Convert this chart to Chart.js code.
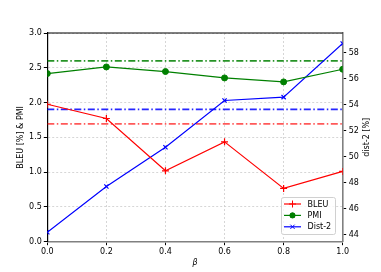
<!DOCTYPE html>
<html>
<head>
<meta charset="utf-8">
<script src="https://cdn.jsdelivr.net/npm/chart.js@4/dist/chart.umd.min.js"></script>
<style>
  html, body { margin: 0; padding: 0; background: #fff; }
  canvas { display: block; }
</style>
</head>
<body>
<canvas id="chart" width="381" height="272"></canvas>
<script>
// Données
const betaValues = [0.0, 0.2, 0.4, 0.6, 0.8, 1.0];
const bleuValues = [1.976, 1.771, 1.019, 1.435, 0.766, 1.01];
const pmiValues = [2.417, 2.512, 2.446, 2.354, 2.297, 2.479];
const dist2Values = [44.2, 47.72, 50.73, 54.32, 54.58, 58.69];

// Lignes de référence (tirets-points)
const bleuBaseline = 1.694;
const pmiBaseline = 2.598;
const dist2Baseline = 53.63;

// Graduations
const xTicks = [0.0, 0.2, 0.4, 0.6, 0.8, 1.0];
const leftTicks = [0.0, 0.5, 1.0, 1.5, 2.0, 2.5, 3.0];
const rightTicks = [44, 46, 48, 50, 52, 54, 56, 58];

const FONT = 'DejaVu Sans';
const dashDot = [7, 2.5, 1.5, 2.5];

function toPoints(values) {
    return betaValues.map((b, i) => ({ x: b, y: values[i] }));
}

function flatLine(value) {
    return [{ x: betaValues[0], y: value }, { x: betaValues[betaValues.length - 1], y: value }];
}

// Légende dessinée dans la zone du graphique (en bas à droite)
const legendEntries = [
    { label: 'BLEU', color: '#ff0000', style: 'cross', r: 3.5 },
    { label: 'PMI', color: '#008000', style: 'circle', r: 2.6 },
    { label: 'Dist-2', color: '#0000ff', style: 'crossRot', r: 3 }
];

const decorPlugin = {
    id: 'decor',
    afterDraw(chart) {
        const ctx = chart.ctx;
        const area = chart.chartArea;
        ctx.save();
        // bord supérieur
        ctx.strokeStyle = '#000';
        ctx.lineWidth = 1.2;
        ctx.beginPath();
        ctx.moveTo(area.left, area.top);
        ctx.lineTo(area.right, area.top);
        ctx.stroke();

        // titre de l'axe de droite (lu de bas en haut)
        ctx.fillStyle = '#000';
        ctx.font = '8px "' + FONT + '"';
        ctx.textAlign = 'center';
        ctx.textBaseline = 'middle';
        ctx.translate(366.7, (area.top + area.bottom) / 2);
        ctx.rotate(-Math.PI / 2);
        ctx.fillText('dist-2 [%]', 0, 0);
        ctx.restore();

        // boîte de légende
        ctx.save();
        const bx = 281, by = 197, bw = 54, bh = 37;
        ctx.fillStyle = 'rgba(255,255,255,0.8)';
        ctx.strokeStyle = '#d0d0d0';
        ctx.lineWidth = 1;
        ctx.beginPath();
        ctx.roundRect(bx + 0.5, by + 0.5, bw, bh, 2);
        ctx.fill();
        ctx.stroke();
        legendEntries.forEach((e, i) => {
            const y = 204 + i * 11.4;
            ctx.strokeStyle = e.color;
            ctx.lineWidth = 1.2;
            ctx.beginPath();
            ctx.moveTo(284, y);
            ctx.lineTo(301, y);
            ctx.stroke();
            ctx.lineWidth = 1;
            Chart.helpers.drawPoint(ctx, {
                pointStyle: e.style, radius: e.r, rotation: 0, borderWidth: 1
            }, 292.5, y);
            ctx.fillStyle = e.color;
            if (e.style === 'circle') ctx.fill();
            ctx.fillStyle = '#000';
            ctx.font = '8px "' + FONT + '"';
            ctx.textAlign = 'left';
            ctx.textBaseline = 'middle';
            ctx.fillText(e.label, 307.5, y + 0.5);
        });
        ctx.restore();
    }
};

const tickFont = { family: FONT, size: 8 };

const ctx = document.getElementById('chart').getContext('2d');
const chart = new Chart(ctx, {
    type: 'line',
    data: {
        datasets: [
            {
                label: 'BLEU', data: toPoints(bleuValues), yAxisID: 'y',
                borderColor: '#ff0000', backgroundColor: '#ff0000', borderWidth: 1.2,
                pointStyle: 'cross', pointRadius: 3.5, pointBorderWidth: 1.2
            },
            {
                label: 'PMI', data: toPoints(pmiValues), yAxisID: 'y',
                borderColor: '#008000', backgroundColor: '#008000', borderWidth: 1.2,
                pointStyle: 'circle', pointRadius: 3, pointBorderWidth: 1
            },
            {
                label: 'Dist-2', data: toPoints(dist2Values), yAxisID: 'y2',
                borderColor: '#0000ff', backgroundColor: '#0000ff', borderWidth: 1.2,
                pointStyle: 'crossRot', pointRadius: 3, pointBorderWidth: 1.2
            },
            {
                label: 'pmi-ref', data: flatLine(pmiBaseline), yAxisID: 'y',
                borderColor: 'rgba(0,128,0,0.85)', borderWidth: 1.8, borderDash: dashDot,
                pointRadius: 0
            },
            {
                label: 'dist2-ref', data: flatLine(dist2Baseline), yAxisID: 'y2',
                borderColor: 'rgba(0,0,255,0.85)', borderWidth: 1.8, borderDash: dashDot,
                pointRadius: 0
            },
            {
                label: 'bleu-ref', data: flatLine(bleuBaseline), yAxisID: 'y',
                borderColor: 'rgba(255,0,0,0.65)', borderWidth: 1.8, borderDash: dashDot,
                pointRadius: 0
            }
        ]
    },
    options: {
        responsive: false,
        animation: false,
        devicePixelRatio: 1,
        layout: { padding: { top: 33, left: 0, right: 0, bottom: 0 } },
        plugins: {
            legend: { display: false },
            tooltip: { enabled: false }
        },
        scales: {
            x: {
                type: 'linear', min: 0, max: 1,
                afterBuildTicks: scale => { scale.ticks = xTicks.map(v => ({ value: v })); },
                afterFit: scale => { scale.height = 30.3; },
                ticks: {
                    font: tickFont, color: '#000', padding: 1.5, maxRotation: 0,
                    callback: v => v.toFixed(1)
                },
                grid: {
                    color: '#cccccc', lineWidth: 0.8, tickLength: 3.5,
                    tickColor: '#000', tickWidth: 1, tickBorderDash: []
                },
                border: { color: '#808080', width: 1.6, dash: [2, 2] },
                title: {
                    display: true, text: 'β',
                    font: { family: FONT, size: 8, style: 'italic' }, color: '#000',
                    padding: { top: 0, bottom: 4 }
                }
            },
            y: {
                type: 'linear', position: 'left', min: 0, max: 3,
                afterBuildTicks: scale => { scale.ticks = leftTicks.map(v => ({ value: v })); },
                afterFit: scale => { scale.width = 47.3; },
                ticks: {
                    font: tickFont, color: '#000', padding: 2,
                    callback: v => v.toFixed(1)
                },
                grid: {
                    color: '#cccccc', lineWidth: 0.8, tickLength: 3.5,
                    tickColor: '#000', tickWidth: 1, tickBorderDash: []
                },
                border: { color: '#000', width: 1.2, dash: [2, 2] },
                title: {
                    display: true, text: 'BLEU [%] & PMI',
                    font: { family: FONT, size: 8 }, color: '#000',
                    padding: { top: 16, bottom: 0 }
                }
            },
            y2: {
                type: 'linear', position: 'right', min: 43.48, max: 59.5,
                afterBuildTicks: scale => { scale.ticks = rightTicks.map(v => ({ value: v })); },
                afterFit: scale => { scale.width = 38.3; },
                ticks: {
                    font: tickFont, color: '#000', padding: 2.5,
                    callback: v => String(v)
                },
                grid: {
                    drawOnChartArea: false, tickLength: 3.5,
                    tickColor: '#000', tickWidth: 1, tickBorderDash: []
                },
                border: { color: '#808080', width: 1.6 }
            }
        }
    },
    plugins: [decorPlugin]
});
</script>
</body>
</html>
